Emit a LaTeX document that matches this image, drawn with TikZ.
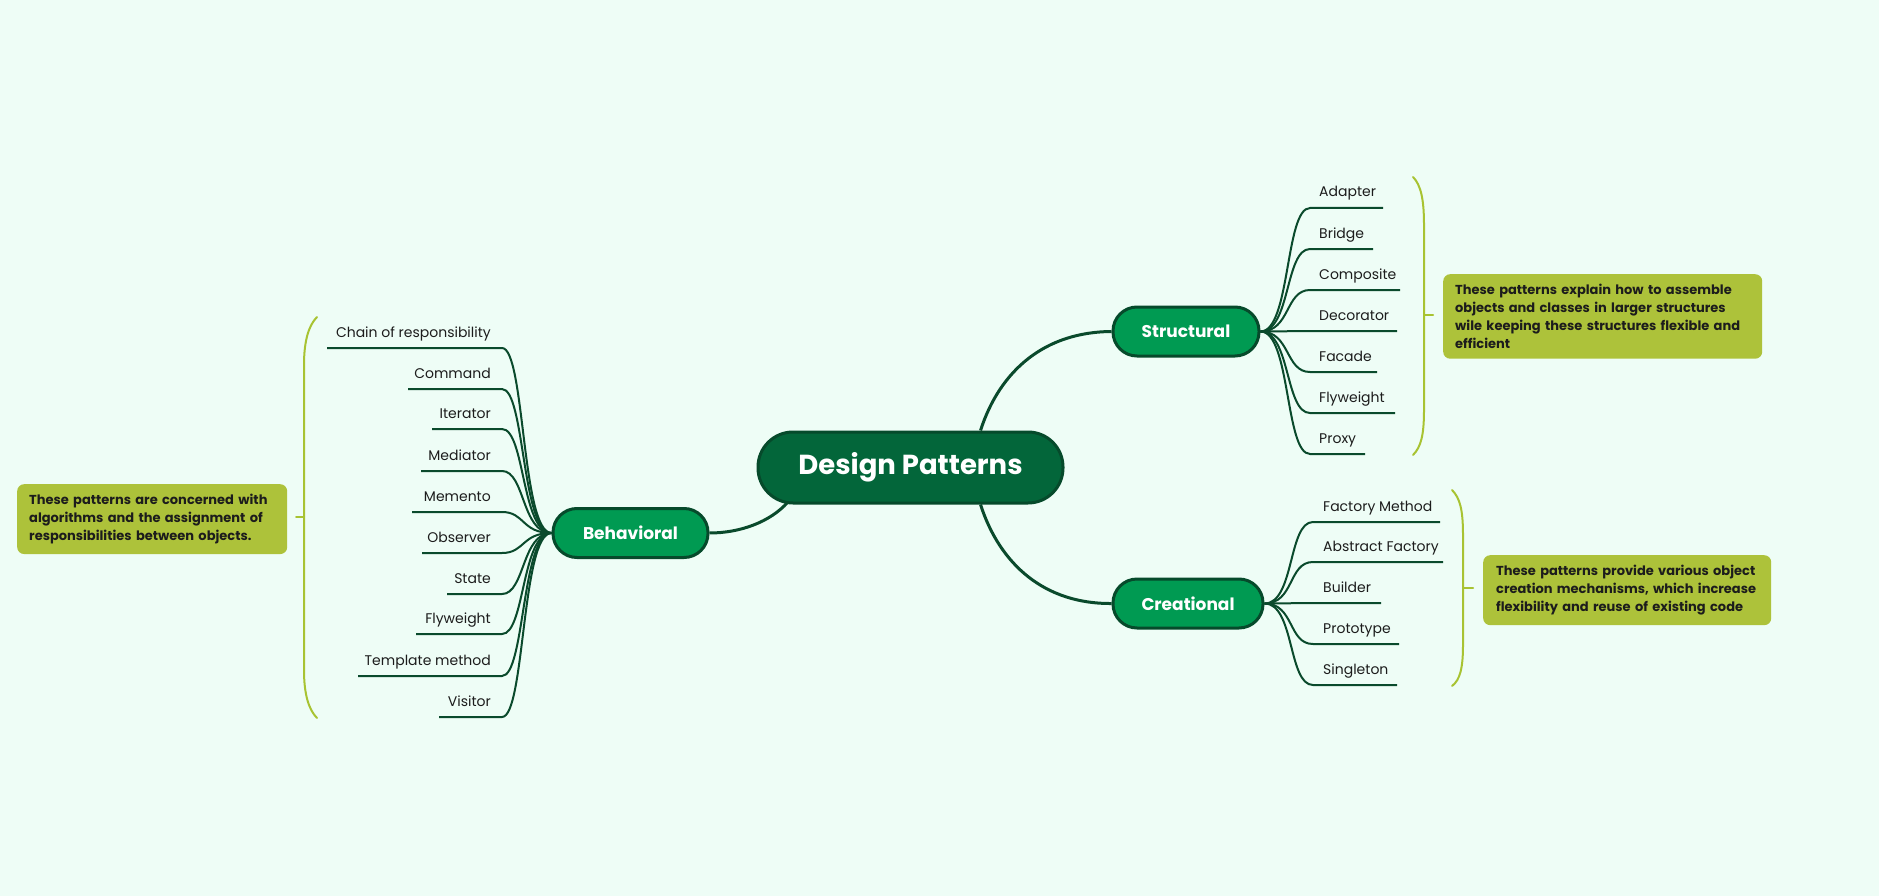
\documentclass[tikz,border=0pt]{standalone}
\usepackage{fontspec}
\setmainfont{Poppins}
\definecolor{bg}{HTML}{EEFDF6}
\definecolor{rootfill}{HTML}{03663A}
\definecolor{nodeborder}{HTML}{064A2B}
\definecolor{topicfill}{HTML}{009A52}
\definecolor{linegreen}{HTML}{0A4A2C}
\definecolor{notefill}{HTML}{ADC23A}
\definecolor{bracketgreen}{HTML}{A8C332}
\definecolor{textdark}{HTML}{1C1C1C}
\begin{document}
\begin{tikzpicture}[x=1pt,y=-1pt,
  branch/.style={draw=linegreen, line width=2pt},
  mainlink/.style={draw=linegreen, line width=3pt},
  rootbox/.style={draw=nodeborder, fill=rootfill, line width=3pt, rounded corners=35pt,
    minimum width=305pt, minimum height=71pt, text=white, inner sep=0pt,
    font=\fontsize{27.5}{30}\selectfont\bfseries},
  topicbox/.style={draw=nodeborder, fill=topicfill, line width=3pt, rounded corners=24pt,
    minimum height=49pt, text=white, inner sep=0pt, font=\fontsize{17}{22}\selectfont\bfseries},
  leaf/.style={font=\fontsize{14}{16}\selectfont, text=textdark, inner sep=0pt},
  bracket/.style={draw=bracketgreen, line width=2pt, line cap=round},
  note/.style={fill=notefill, rounded corners=7pt, font=\fontsize{13}{18}\selectfont\bfseries,
    text=textdark, align=left, inner xsep=12pt, inner ysep=10pt, anchor=north west}
]
\useasboundingbox (0,0) rectangle (1879,896);
\fill[bg] (0,0) rectangle (1879,896);

% main nodes
\node[rootbox] (root) at (910.5,467.5) {Design Patterns};
\node[topicbox, minimum width=146pt] (struct) at (1186,331.5) {Structural};
\node[topicbox, minimum width=150pt] (creat) at (1188,603.5) {Creational};
\node[topicbox, minimum width=155pt] (beh) at (630.5,533) {Behavioral};

% main links
\draw[mainlink] ([xshift=70pt]root.north) .. controls (1000,370) and (1045,332) .. (struct.west);
\draw[mainlink] ([xshift=70pt]root.south) .. controls (1000,565) and (1045,604) .. (creat.west);
\draw[mainlink] ([xshift=-123pt,yshift=2pt]root.south) .. controls (770,522) and (740,533) .. (beh.east);

% structural leaves
\foreach \nm/\txt/\yy/\xe in {sa/Adapter/208/1383, sb/Bridge/249/1373, sc/Composite/290/1400,
  sd/Decorator/331/1397, se/Facade/372/1377, sf/Flyweight/413/1395, sg/Proxy/454/1365} {
  \coordinate (\nm-s) at (1310,\yy);
  \coordinate (\nm-e) at (\xe,\yy);
  \node[leaf, anchor=base west] (\nm) at (1319,\yy-11) {\txt};
  \draw[branch] (struct.east) .. controls ([xshift=30pt]struct.east) and (1285,\yy) .. (\nm-s) -- (\nm-e);
}

% creational leaves
\foreach \nm/\txt/\yy/\xe in {ca/Factory Method/522/1440, cb/Abstract Factory/562/1443,
  cc/Builder/603/1381, cd/Prototype/644/1399, ce/Singleton/685/1397} {
  \coordinate (\nm-s) at (1313,\yy);
  \coordinate (\nm-e) at (\xe,\yy);
  \node[leaf, anchor=base west] (\nm) at (1323,\yy-11) {\txt};
  \draw[branch] (creat.east) .. controls ([xshift=30pt]creat.east) and (1288,\yy) .. (\nm-s) -- (\nm-e);
}

% behavioral leaves
\foreach \nm/\txt/\yy/\xe in {ba/Chain of responsibility/348/327, bb/Command/389/408,
  bc/Iterator/429/432, bd/Mediator/471/421, be/Memento/512/412, bf/Observer/553/422,
  bg/State/594/447, bh/Flyweight/634/416, bi/Template method/676/358, bj/Visitor/717/439} {
  \coordinate (\nm-s) at (502,\yy);
  \coordinate (\nm-e) at (\xe,\yy);
  \node[leaf, anchor=base east] (\nm) at (491,\yy-11) {\txt};
  \draw[branch] (beh.west) .. controls ([xshift=-30pt]beh.west) and (525,\yy) .. (\nm-s) -- (\nm-e);
}

% brackets
\draw[bracket] (1413,177) .. controls (1421,185) and (1424,200) .. (1424,225) -- (1424,410)
  .. controls (1424,435) and (1421,447) .. (1413,455);
\draw[bracket] (1424,315) -- (1433,315);
\draw[bracket] (1452,490) .. controls (1460,498) and (1463,510) .. (1463,535) -- (1463,645)
  .. controls (1463,668) and (1460,680) .. (1452,686);
\draw[bracket] (1463,588) -- (1473,588);
\draw[bracket] (317,317) .. controls (309,325) and (304,340) .. (304,365) -- (304,670)
  .. controls (304,695) and (309,710) .. (317,718);
\draw[bracket] (304,517) -- (296,517);

% notes
\node[note, text width=295pt] (nstruct) at (1443,274)
  {These patterns explain how to assemble\\objects and classes in larger structures\\wile keeping these structures flexible and\\efficient};
\node[note, text width=262pt, inner xsep=13pt] (ncreat) at (1483,555)
  {These patterns provide various object\\creation mechanisms, which increase\\flexibility and reuse of existing code};
\node[note, text width=246pt] (nbeh) at (17,484)
  {These patterns are concerned with\\algorithms and the assignment of\\responsibilities between objects.};
\end{tikzpicture}
\end{document}
